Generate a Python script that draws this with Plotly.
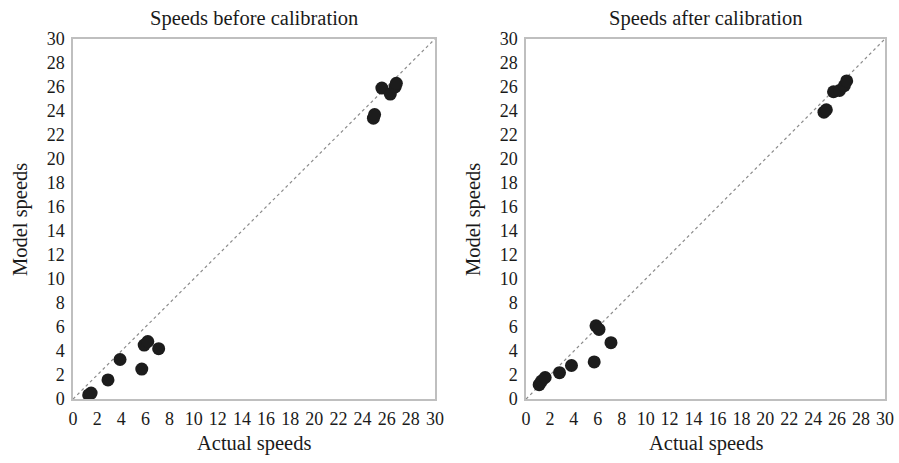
import plotly.graph_objects as go
from plotly.subplots import make_subplots

# Before calibration
before_actual = [1.3, 1.5, 2.9, 3.9, 5.7, 5.9, 6.2, 7.1, 24.9, 25.0, 25.6, 26.3, 26.7, 26.8]
before_model = [0.35, 0.5, 1.6, 3.3, 2.5, 4.5, 4.8, 4.2, 23.4, 23.7, 25.9, 25.4, 26.0, 26.3]

# After calibration
after_actual = [1.1, 1.3, 1.6, 2.8, 3.8, 5.7, 5.85, 6.1, 7.1, 24.9, 25.1, 25.7, 26.2, 26.6, 26.8]
after_model = [1.2, 1.5, 1.8, 2.2, 2.8, 3.1, 6.1, 5.8, 4.7, 23.9, 24.1, 25.6, 25.7, 26.1, 26.5]

titles = ["Speeds before calibration", "Speeds after calibration"]
x_title = "Actual speeds"
y_title = "Model speeds"
tick_vals = list(range(0, 31, 2))
tick_text = [str(v) for v in tick_vals]

FONT = "Liberation Serif"
W, H = 899, 463

fig = make_subplots(rows=1, cols=2)

for col, (xs, ys) in enumerate([(before_actual, before_model), (after_actual, after_model)], start=1):
    fig.add_trace(go.Scatter(x=[0, 30], y=[0, 30], mode="lines",
                             line=dict(color="#8c8c8c", width=1.2, dash="dot"),
                             showlegend=False, hoverinfo="skip"), row=1, col=col)
    fig.add_trace(go.Scatter(x=xs, y=ys, mode="markers",
                             marker=dict(color="#1c1c1c", size=13, line=dict(width=0)),
                             showlegend=False), row=1, col=col)

axis_common = dict(range=[0, 30], tickvals=tick_vals, ticktext=tick_text,
                   showgrid=False, zeroline=False, showline=True, mirror=True,
                   linecolor="#bfbfbf", linewidth=1.5, ticks="",
                   tickfont=dict(family=FONT, size=18, color="#1a1a1a"),
                   ticklabelstandoff=3,
                   automargin=False, fixedrange=True)

def ann(text, xpx, ypx, size, angle=0):
    return dict(text=text, x=xpx / W, y=1 - ypx / H, xref="paper", yref="paper",
                showarrow=False, textangle=angle, borderpad=0,
                font=dict(family=FONT, size=size, color="#1a1a1a"),
                xanchor="center", yanchor="middle")

fig.update_layout(
    width=W, height=H,
    margin=dict(l=0, r=0, t=0, b=0),
    paper_bgcolor="white", plot_bgcolor="white",
    font=dict(family=FONT, color="#1a1a1a"),
    xaxis=dict(axis_common, domain=[0.0812, 0.4838]),
    xaxis2=dict(axis_common, domain=[0.5851, 0.9844]),
    yaxis=dict(axis_common, domain=[0.138, 0.916]),
    yaxis2=dict(axis_common, domain=[0.138, 0.916]),
    annotations=[
        ann(titles[0], 254, 18, 20.5),
        ann(titles[1], 706, 18, 20.5),
        ann(x_title, 254, 443, 20.5),
        ann(x_title, 706, 443, 20.5),
        ann(y_title, 20, 220, 20.5, -90),
        ann(y_title, 473, 220, 20.5, -90),
    ],
)

fig.write_html("out.html")
